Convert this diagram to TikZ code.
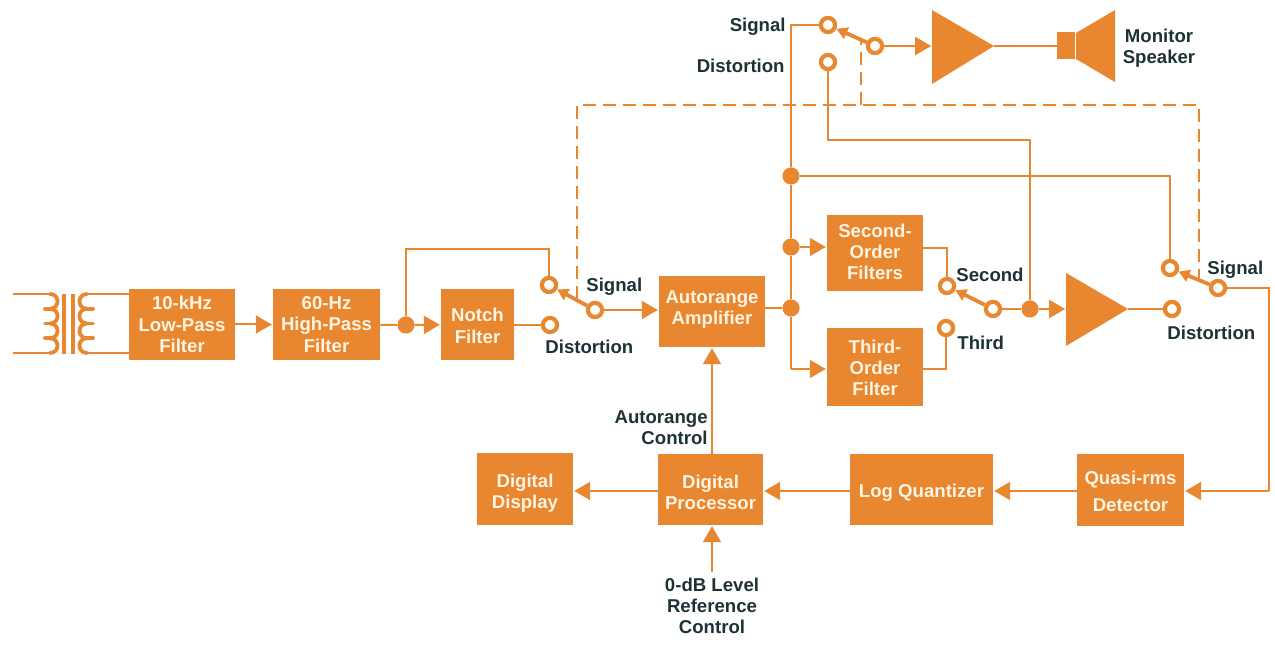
\documentclass[tikz,border=0pt]{standalone}
\usepackage{fontspec}
\setmainfont{Liberation Sans}
\usetikzlibrary{arrows.meta}
\definecolor{hp_orange}{HTML}{E8872F}
\definecolor{hp_text}{HTML}{FFF3E2}
\definecolor{hp_label}{HTML}{1E3236}
\begin{document}
\begin{tikzpicture}[
    x=0.5pt, y=-0.5pt,
    wire/.style={draw=hp_orange,line width=1pt},
    feed/.style={wire,-{Triangle[length=8pt,width=9pt]},shorten >=0.4pt},
    link/.style={draw=hp_orange,line width=0.8pt,dash pattern=on 6.5pt off 3.5pt},
    arm/.style={draw=hp_orange,line width=1.9pt,-{Triangle[length=5.5pt,width=6pt]}},
    coil_line/.style={draw=hp_orange,line width=1.9pt,line cap=round},
    core_line/.style={draw=hp_orange,line width=2.2pt},
    node_box/.style={rectangle,fill=hp_orange,text=hp_text,inner sep=0pt,align=center,
      font=\bfseries\fontsize{9.3}{10.6}\selectfont},
    text_low/.style={execute at begin node={\rule{0pt}{#1}}},
    text_high/.style={execute at end node={\rule[-#1]{0pt}{#1}}},
    node_ring/.style={circle,draw=hp_orange,fill=white,line width=2.1pt,minimum size=7.1pt,inner sep=0pt,outer sep=1.05pt},
    node_dot/.style={circle,fill=hp_orange,minimum size=8.6pt,inner sep=0pt},
    node_text/.style={text=hp_label,inner sep=0pt,align=center,
      font=\bfseries\fontsize{9.3}{10.6}\selectfont},
    node_amp/.style={fill=hp_orange,draw=none}
  ]
    \useasboundingbox (0,0) rectangle (1275,646);

    \node[node_box,minimum width=53pt,minimum height=35.5pt] (lowpass) at (182,324.5) {10-kHz\\Low-Pass\\Filter};
    \node[node_box,minimum width=53.5pt,minimum height=35.5pt] (highpass) at (326.5,324.5) {60-Hz\\High-Pass\\Filter};
    \node[node_box,minimum width=36.5pt,minimum height=35.5pt,text_low=18.6pt] (notch) at (477.5,324.5) {Notch\\Filter};
    \node[node_box,minimum width=53pt,minimum height=35.5pt,text_high=3.8pt] (autorange) at (712,311.5) {Autorange\\Amplifier};
    \node[node_box,minimum width=48pt,minimum height=38pt,text_high=1pt] (second) at (875,253) {Second-\\Order\\Filters};
    \node[node_box,minimum width=48pt,minimum height=39pt,text_low=28.9pt] (third) at (875,367) {Third-\\Order\\Filter};
    \node[node_box,minimum width=48pt,minimum height=36pt,text_low=21.8pt] (display) at (525,489) {Digital\\Display};
    \node[node_box,minimum width=52.5pt,minimum height=35.5pt,text_low=20.3pt] (processor) at (710.5,489.5) {Digital\\Processor};
    \node[node_box,minimum width=71.5pt,minimum height=35.5pt,text_low=10pt] (quantizer) at (921.5,489.5) {Log Quantizer};
    \node[node_box,minimum width=53.5pt,minimum height=36pt,text_low=21.1pt] (detector) at (1130.5,490) {Quasi-rms\\[2.8pt]Detector};

    \node[node_dot] (dot_hp) at (406,325) {};
    \node[node_dot] (dot_top) at (791,176) {};
    \node[node_dot] (dot_second) at (791,247) {};
    \node[node_dot] (dot_amp) at (791,308) {};
    \node[node_dot] (dot_sel) at (1030,309) {};

    \node[node_ring] (in_signal) at (549,285) {};
    \node[node_ring] (in_distortion) at (550,325) {};
    \node[node_ring] (in_pole) at (595,310) {};
    \node[node_ring] (sel_second) at (947,286) {};
    \node[node_ring] (sel_third) at (946,328) {};
    \node[node_ring] (sel_pole) at (993,309) {};
    \node[node_ring] (det_signal) at (1170,268) {};
    \node[node_ring] (det_distortion) at (1172,309) {};
    \node[node_ring] (det_pole) at (1218,288) {};
    \node[node_ring] (mon_signal) at (828,25) {};
    \node[node_ring] (mon_distortion) at (828,62) {};
    \node[node_ring] (mon_pole) at (875,46) {};

    \fill[node_amp] (932,10) -- (994,46) -- (932,84) -- cycle;
    \coordinate (mon_amp_in) at (932,46);
    \coordinate (mon_amp_out) at (994,46);
    \fill[node_amp] (1066,273) -- (1128,309) -- (1066,346) -- cycle;
    \coordinate (sel_amp_in) at (1066,309);
    \coordinate (sel_amp_out) at (1128,309);
    \node[fill=hp_orange,minimum width=8.8pt,minimum height=13.5pt,inner sep=0pt] (coil) at (1066,46) {};
    \fill[node_amp] (1076,33) -- (1115,10) -- (1115,82) -- (1076,59) -- cycle;

    \node[node_text,anchor=east] (lab_mon_signal) at (786,27) {Signal};
    \node[node_text,anchor=east] (lab_mon_distortion) at (785,66) {Distortion};
    \node[node_text] (lab_speaker) at (1159,48) {Monitor\\Speaker};
    \node[node_text,anchor=west] (lab_in_signal) at (586,287) {Signal};
    \node[node_text,anchor=west] (lab_in_distortion) at (545,347) {Distortion};
    \node[node_text,anchor=west] (lab_second) at (956,275) {Second};
    \node[node_text,anchor=west] (lab_third) at (957,343) {Third};
    \node[node_text,anchor=west] (lab_det_signal) at (1207,270) {Signal};
    \node[node_text,anchor=west] (lab_det_distortion) at (1167,333) {Distortion};
    \node[node_text,align=right,anchor=east] (lab_control) at (708,428) {Autorange\\Control};
    \node[node_text] (lab_reference) at (712,606) {0-dB Level\\Reference\\Control};

    \coordinate (src_top) at (13,294);
    \coordinate (src_bottom) at (13,353);
    \coordinate (coil_l_top) at (50,294);
    \coordinate (coil_l_bottom) at (50,353);
    \coordinate (coil_r_top) at (87,294);
    \coordinate (coil_r_bottom) at (87,353);
    \draw[wire] (src_top) -- (coil_l_top);
    \draw[wire] (src_bottom) -- (coil_l_bottom);
    \draw[wire] (coil_r_top) -- (lowpass.west |- coil_r_top);
    \draw[wire] (coil_r_bottom) -- (lowpass.west |- coil_r_bottom);
    \foreach \ya/\yb in {294/308.75,308.75/323.5,323.5/338.25,338.25/353} {
      \draw[coil_line] (50,\ya) .. controls (60,\ya) and (60,\yb) .. (50,\yb);
      \draw[coil_line] (87,\ya) .. controls (77,\ya) and (77,\yb) .. (87,\yb);
    }
    \foreach \y in {308.75,323.5,338.25} {
      \draw[coil_line] (45,\y) -- (50,\y);
      \draw[coil_line] (87,\y) -- (93,\y);
    }
    \draw[core_line] (64,294) -- (64,354);
    \draw[core_line] (73,294) -- (73,354);

    \coordinate (hp_up) at (406,249);
    \coordinate (signal_up) at (549,249);
    \draw[wire] (dot_hp) -- (hp_up) -- (signal_up) -- (in_signal);
    \draw[wire] (highpass) -- (dot_hp);
    \draw[feed] (dot_hp) -- (notch);
    \draw[wire] (notch.east |- in_distortion) -- (in_distortion);
    \draw[feed] (lowpass.east) -- (highpass.west);
    \draw[arm] (in_pole) -- (in_signal);
    \draw[feed] (in_pole) -- (autorange.west |- in_pole);
    \draw[wire] (autorange.east |- dot_amp) -- (dot_amp);

    \coordinate (amp_down) at (791,369);
    \coordinate (mon_corner) at (791,25);
    \draw[wire] (dot_amp) -- (dot_second) -- (dot_top) -- (mon_corner) -- (mon_signal);
    \draw[wire] (dot_amp) -- (amp_down);
    \draw[feed] (amp_down) -- (third.west |- amp_down);
    \draw[feed] (dot_second) -- (second.west |- dot_second);

    \coordinate (second_out) at (947,248);
    \coordinate (third_out) at (946,369);
    \draw[wire] (second.east |- second_out) -- (second_out) -- (sel_second);
    \draw[wire] (third.east |- third_out) -- (third_out) -- (sel_third);
    \draw[arm] (sel_pole) -- (sel_second);
    \draw[wire] (sel_pole) -- (dot_sel);
    \draw[feed] (dot_sel) -- (sel_amp_in);
    \draw[wire] (sel_amp_out) -- (det_distortion);

    \coordinate (dist_low) at (828,140);
    \coordinate (dist_high) at (1030,140);
    \draw[wire] (mon_distortion) -- (dist_low) -- (dist_high) -- (dot_sel);
    \coordinate (top_corner) at (1170,176);
    \draw[wire] (dot_top) -- (top_corner) -- (det_signal);
    \draw[arm] (det_pole) -- (det_signal);

    \coordinate (det_right) at (1269,288);
    \coordinate (det_low) at (1269,491);
    \draw[wire] (det_pole) -- (det_right) -- (det_low);
    \draw[feed] (det_low) -- (detector.east |- det_low);
    \draw[feed] (detector.west |- det_low) -- (quantizer.east |- det_low);
    \draw[feed] (quantizer.west |- det_low) -- (processor.east |- det_low);
    \draw[feed] (processor.west |- det_low) -- (display.east |- det_low);

    \coordinate (control_in) at (712,572);
    \draw[feed] (control_in) -- (processor.south -| control_in);
    \draw[feed] (processor.north -| control_in) -- (autorange.south -| control_in);

    \draw[arm] (mon_pole) -- (mon_signal);
    \draw[feed] (mon_pole) -- (mon_amp_in);
    \draw[wire] (mon_amp_out) -- (coil);

    \coordinate (link_in) at (577,299);
    \coordinate (link_corner_l) at (577,105);
    \coordinate (link_corner_r) at (1199,105);
    \coordinate (link_det) at (1199,279);
    \coordinate (link_mon_low) at (861,105);
    \coordinate (link_mon) at (861,40);
    \draw[link] (link_in) -- (link_corner_l) -- (link_corner_r) -- (link_det);
    \draw[link] (link_mon_low) -- (link_mon);
  \end{tikzpicture}
\end{document}
